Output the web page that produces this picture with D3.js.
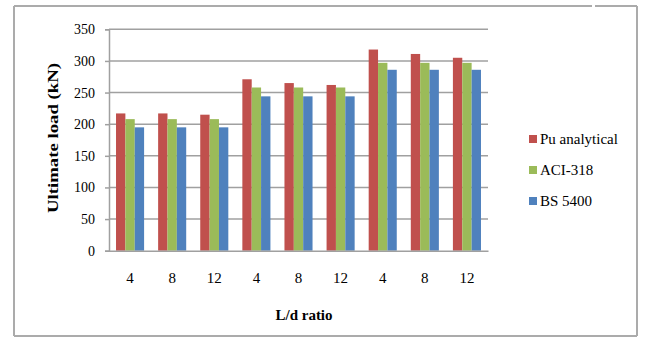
<!DOCTYPE html>
<html>
<head>
<meta charset="utf-8">
<script src="https://cdn.jsdelivr.net/npm/d3@7"></script>
<style>
  html, body { margin: 0; padding: 0; background: #fff; }
  svg { display: block; }
  svg text { font-family: "Liberation Serif", "Times New Roman", serif; fill: #000; }
</style>
</head>
<body>
<svg id="chart" width="645" height="338"></svg>
<script>
// Ultimate load per L/d ratio, three groups of three ratios
const categories = ["4", "8", "12", "4", "8", "12", "4", "8", "12"];
const seriesNames = ["Pu analytical", "ACI-318", "BS 5400"];
const puAnalytical = [217, 217, 215, 271, 265, 262, 318, 311, 305];
const aci318 = [208, 208, 208, 258, 258, 258, 297, 297, 297];
const bs5400 = [195, 195, 195, 244, 244, 244, 286, 286, 286];
const yTicks = [0, 50, 100, 150, 200, 250, 300, 350];
const colors = ["#C0504D", "#9BBB59", "#4F81BD"];

const seriesValues = [puAnalytical, aci318, bs5400];
const serif = '"Liberation Serif", "Times New Roman", serif';

const svg = d3.select("#chart");

// chart frame
const frame = svg.append("g").attr("stroke", "#ababab").attr("stroke-width", 2).attr("fill", "none");
frame.append("line").attr("x1", 14).attr("y1", 6).attr("x2", 592).attr("y2", 6);
frame.append("line").attr("x1", 595).attr("y1", 6).attr("x2", 637).attr("y2", 6);
frame.append("line").attr("x1", 637).attr("y1", 6).attr("x2", 637).attr("y2", 336);
frame.append("line").attr("x1", 14).attr("y1", 336).attr("x2", 637).attr("y2", 336);
frame.append("line").attr("x1", 14).attr("y1", 6).attr("x2", 14).attr("y2", 336);

const plot = { left: 109, right: 488, top: 29.3, bottom: 250.7 };

const x = d3.scaleBand()
  .domain(d3.range(categories.length))
  .range([plot.left, plot.right])
  .paddingInner(1 / 3)
  .paddingOuter(1 / 6);

const xs = d3.scaleBand()
  .domain(seriesNames)
  .range([0, x.bandwidth()]);

const y = d3.scaleLinear()
  .domain([0, 350])
  .range([plot.bottom, plot.top]);

// horizontal gridlines
svg.append("g")
  .selectAll("line")
  .data(yTicks.filter(d => d > 0))
  .join("line")
  .attr("x1", plot.left)
  .attr("x2", plot.right)
  .attr("y1", d => y(d))
  .attr("y2", d => y(d))
  .attr("stroke", "#a0a0a0")
  .attr("stroke-width", 1.5);

// y axis
const yAxis = svg.append("g")
  .attr("transform", `translate(${plot.left},0)`)
  .call(d3.axisLeft(y).tickValues(yTicks).tickSize(4).tickPadding(10));
yAxis.attr("font-family", null).attr("font-size", null);
yAxis.select(".domain").attr("stroke", "#a0a0a0").attr("stroke-width", 1.5);
yAxis.selectAll(".tick line").attr("stroke", "#a0a0a0").attr("stroke-width", 1.5);
yAxis.selectAll(".tick text")
  .style("font-family", serif)
  .style("font-size", "14px")
  .attr("fill", "#000");

// bars
const groups = svg.append("g")
  .selectAll("g")
  .data(seriesNames.map((name, i) => ({ name, color: colors[i], values: seriesValues[i] })))
  .join("g")
  .attr("fill", d => d.color);

groups.selectAll("rect")
  .data(s => s.values.map((v, i) => ({ name: s.name, i, v })))
  .join("rect")
  .attr("x", d => x(d.i) + xs(d.name))
  .attr("width", xs.bandwidth())
  .attr("y", d => y(d.v))
  .attr("height", d => y(0) - y(d.v));

// x axis baseline and labels
const xAxis = svg.append("g")
  .attr("transform", `translate(0,${plot.bottom})`)
  .call(d3.axisBottom(x).tickSize(0).tickPadding(22).tickFormat(i => categories[i]));
xAxis.attr("font-family", null).attr("font-size", null);
xAxis.select(".domain").attr("stroke", "#a0a0a0").attr("stroke-width", 1.5);
xAxis.selectAll(".tick text")
  .style("font-family", serif)
  .style("font-size", "15px")
  .attr("fill", "#000");

// axis titles
svg.append("text")
  .attr("x", 304)
  .attr("y", 320)
  .attr("text-anchor", "middle")
  .style("font-size", "15px")
  .attr("font-weight", "bold")
  .text("L/d ratio");

svg.append("text")
  .attr("transform", "translate(58,138) rotate(-90)")
  .attr("text-anchor", "middle")
  .style("font-size", "14px")
  .attr("font-weight", "bold")
  .attr("textLength", 150)
  .attr("lengthAdjust", "spacingAndGlyphs")
  .text("Ultimate load (kN)");

// legend
const legend = svg.append("g")
  .selectAll("g")
  .data(seriesNames)
  .join("g")
  .attr("transform", (d, i) => `translate(529,${139 + i * 31})`);

legend.append("rect")
  .attr("x", 0)
  .attr("y", -4)
  .attr("width", 8)
  .attr("height", 8)
  .attr("fill", (d, i) => colors[i]);

legend.append("text")
  .attr("x", 11)
  .attr("y", 5)
  .style("font-size", "15px")
  .text(d => d);
</script>
</body>
</html>
